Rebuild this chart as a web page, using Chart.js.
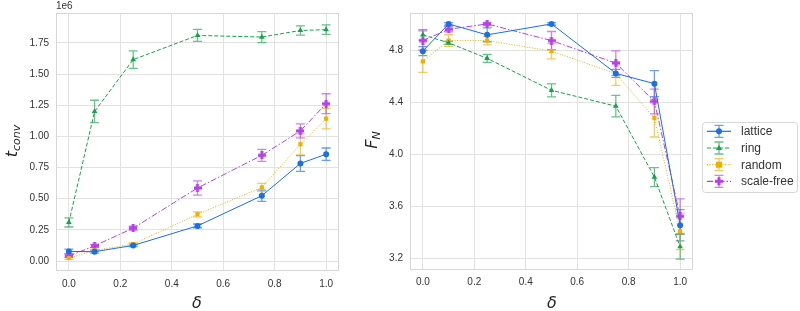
<!DOCTYPE html>
<html><head><meta charset="utf-8">
<script src="https://cdn.jsdelivr.net/npm/chart.js@4"></script>
<style>
body{margin:0;background:#fff;width:800px;height:311px;overflow:hidden;position:relative}
#l{position:absolute;left:0;top:0;width:350px;height:311px}
#r{position:absolute;left:350px;top:0;width:450px;height:311px}
</style></head><body>
<div id="l"><canvas id="c1" width="350" height="311"></canvas></div>
<div id="r"><canvas id="c2" width="450" height="311"></canvas></div>
<script>
// ---- data ----
const deltas = [0, 0.1, 0.25, 0.5, 0.75, 0.9, 1.0];
const seriesNames = ['lattice', 'ring', 'random', 'scale-free'];
// t_conv (units of 1e6)
const tconvLattice   = [0.077, 0.075, 0.125, 0.282, 0.524, 0.783, 0.857];
const tconvRing      = [0.310, 1.200, 1.616, 1.810, 1.797, 1.850, 1.856];
const tconvRandom    = [0.024, 0.085, 0.136, 0.375, 0.590, 0.937, 1.142];
const tconvScaleFree = [0.040, 0.122, 0.264, 0.586, 0.848, 1.044, 1.262];
const tconvErrLattice   = [0.018, 0.012, 0.010, 0.015, 0.045, 0.063, 0.050];
const tconvErrRing      = [0.037, 0.090, 0.070, 0.048, 0.044, 0.037, 0.038];
const tconvErrRandom    = [0.010, 0.010, 0.010, 0.020, 0.033, 0.085, 0.082];
const tconvErrScaleFree = [0.010, 0.012, 0.015, 0.057, 0.048, 0.056, 0.080];
// F_N
const fnLattice   = [4.795, 5.004, 4.920, 5.004, 4.624, 4.545, 3.457];
const fnRing      = [4.920, 4.859, 4.739, 4.494, 4.372, 3.827, 3.292];
const fnRandom    = [4.716, 4.876, 4.876, 4.795, 4.622, 4.280, 3.410];
const fnScaleFree = [4.876, 4.963, 5.004, 4.876, 4.703, 4.408, 3.526];
const fnErrLattice   = [0.035, 0.010, 0.053, 0.010, 0.030, 0.100, 0.120];
const fnErrRing      = [0.040, 0.012, 0.030, 0.050, 0.083, 0.073, 0.095];
const fnErrRandom    = [0.084, 0.045, 0.033, 0.060, 0.090, 0.145, 0.140];
const fnErrScaleFree = [0.074, 0.020, 0.012, 0.070, 0.094, 0.095, 0.134];
// ticks
const xTicks = [0, 0.2, 0.4, 0.6, 0.8, 1.0];
const tconvTicks = [0, 0.25, 0.5, 0.75, 1.0, 1.25, 1.5, 1.75];
const fnTicks = [3.2, 3.6, 4.0, 4.4, 4.8];

// ---- style ----
const colors = ['#1a6ee6', '#16a34a', '#f0b000', '#b640e8'];
const errColors = ['rgba(26,110,230,0.65)', 'rgba(22,163,74,0.65)', 'rgba(240,176,0,0.65)', 'rgba(182,64,232,0.65)'];
const dashes = [[], [4, 2], [1, 1.6], [6, 2, 1.5, 2]];
const TXT = '#333333';
const GRID = '#e2e2e2';
const TICKFONT = {family: '"Liberation Sans", Arial, sans-serif', size: 10};

function plusMarker(color) {
  const c = document.createElement('canvas');
  c.width = 8; c.height = 8;
  const g = c.getContext('2d');
  g.fillStyle = color;
  g.fillRect(2.5, 0, 3, 8);
  g.fillRect(0, 2.5, 8, 3);
  return c;
}
const pointStyles = ['circle', 'triangle', 'rect', plusMarker(colors[3])];
const pointRadii = [3, 3.3, 3, 4];

function buildDatasets(vals, errs) {
  return vals.map((v, i) => ({
    label: seriesNames[i],
    data: deltas.map((d, j) => ({x: d, y: v[j]})),
    errs: errs[i],
    ebColor: errColors[i],
    borderColor: colors[i],
    backgroundColor: colors[i],
    borderWidth: 1,
    borderDash: dashes[i],
    pointStyle: pointStyles[i],
    pointRadius: pointRadii[i],
    pointBorderWidth: 0,
    pointBackgroundColor: colors[i],
    tension: 0,
    fill: false
  }));
}

const errorBarPlugin = {
  id: 'errbars',
  beforeDatasetsDraw(chart) {
    const {ctx, scales: {x, y}} = chart;
    ctx.save();
    ctx.setLineDash([]);
    ctx.lineWidth = 1.3;
    chart.data.datasets.forEach(ds => {
      ctx.strokeStyle = ds.ebColor;
      ds.data.forEach((p, j) => {
        const e = ds.errs[j];
        const px = x.getPixelForValue(p.x);
        const y1 = y.getPixelForValue(p.y - e);
        const y2 = y.getPixelForValue(p.y + e);
        ctx.beginPath();
        ctx.moveTo(px, y1); ctx.lineTo(px, y2);
        ctx.moveTo(px - 4.5, y1); ctx.lineTo(px + 4.5, y1);
        ctx.moveTo(px - 4.5, y2); ctx.lineTo(px + 4.5, y2);
        ctx.stroke();
      });
    });
    ctx.restore();
  }
};

const framePlugin = {
  id: 'frame',
  afterDatasetsDraw(chart) {
    const {ctx, chartArea: a} = chart;
    ctx.save();
    ctx.strokeStyle = '#d6d6d6';
    ctx.lineWidth = 1;
    ctx.strokeRect(Math.round(a.left) + 0.5, Math.round(a.top) + 0.5, Math.round(a.right - a.left) - 1, Math.round(a.bottom - a.top) - 1);
    ctx.restore();
  }
};

function drawSub(ctx, main, sub, cx, cy, rotate) {
  ctx.save();
  ctx.translate(cx, cy);
  if (rotate) ctx.rotate(-Math.PI / 2);
  const mf = 'italic 16px "DejaVu Sans", sans-serif';
  const sf = 'italic 11px "DejaVu Sans", sans-serif';
  ctx.font = mf; const w1 = ctx.measureText(main).width;
  ctx.font = sf; const w2 = sub ? ctx.measureText(sub).width : 0;
  const w = w1 + w2;
  ctx.fillStyle = '#262626';
  ctx.textBaseline = 'alphabetic';
  ctx.textAlign = 'left';
  ctx.font = mf; ctx.fillText(main, -w / 2, 5);
  if (sub) { ctx.font = sf; ctx.fillText(sub, -w / 2 + w1, 8); }
  ctx.restore();
}

function makeOptions(cfg) {
  return {
    responsive: false,
    animation: false,
    devicePixelRatio: 1,
    layout: {padding: cfg.padding},
    plugins: {legend: {display: false}, tooltip: {enabled: false}},
    scales: {
      x: {
        type: 'linear', min: -0.05, max: 1.05,
        afterFit: s => { s.height = cfg.xh; },
        afterBuildTicks: s => { s.ticks = xTicks.map(v => ({value: v})); },
        grid: {color: GRID, drawTicks: false, lineWidth: 1},
        border: {display: false},
        ticks: {font: TICKFONT, color: TXT, padding: cfg.xpad, maxRotation: 0,
                callback: v => v.toFixed(1)}
      },
      y: {
        type: 'linear', min: cfg.ymin, max: cfg.ymax,
        afterFit: s => { s.width = cfg.yw; },
        afterBuildTicks: s => { s.ticks = cfg.yticks.map(v => ({value: v})); },
        grid: {color: GRID, drawTicks: false, lineWidth: 1},
        border: {display: false},
        ticks: {font: TICKFONT, color: TXT, padding: cfg.ypad,
                callback: v => v.toFixed(cfg.ydec)}
      }
    }
  };
}

// left chart
new Chart(document.getElementById('c1'), {
  type: 'line',
  data: {datasets: buildDatasets(
    [tconvLattice, tconvRing, tconvRandom, tconvScaleFree],
    [tconvErrLattice, tconvErrRing, tconvErrRandom, tconvErrScaleFree])},
  options: makeOptions({padding: {left: 0, right: 11, top: 10, bottom: 0}, xh: 40, yw: 56,
    ymin: -0.08, ymax: 1.99, yticks: tconvTicks, ydec: 2, xpad: 7, ypad: 7}),
  plugins: [errorBarPlugin, framePlugin, {
    id: 'labels1',
    afterDraw(chart) {
      const ctx = chart.ctx;
      ctx.save();
      ctx.font = '10px "Liberation Sans", Arial, sans-serif';
      ctx.fillStyle = TXT; ctx.textAlign = 'left'; ctx.textBaseline = 'alphabetic';
      ctx.fillText('1e6', chart.chartArea.left, 9);
      ctx.restore();
      drawSub(ctx, 't', 'conv', 12, 141, true);
      drawSub(ctx, 'δ', '', 197, 303, false);
    }
  }]
});

// right chart
new Chart(document.getElementById('c2'), {
  type: 'line',
  data: {datasets: buildDatasets(
    [fnLattice, fnRing, fnRandom, fnScaleFree],
    [fnErrLattice, fnErrRing, fnErrRandom, fnErrScaleFree])},
  options: makeOptions({padding: {left: 0, right: 107, top: 12, bottom: 0}, xh: 41, yw: 60,
    ymin: 3.113, ymax: 5.088, yticks: fnTicks, ydec: 1, xpad: 6, ypad: 7}),
  plugins: [errorBarPlugin, framePlugin, {
    id: 'labels2',
    afterDraw(chart) {
      const ctx = chart.ctx;
      drawSub(ctx, 'F', 'N', 22, 140, true);
      drawSub(ctx, 'δ', '', 202, 303, false);
      // legend
      const bx = 352, by = 122, bw = 95, bh = 70;
      ctx.save();
      ctx.fillStyle = '#fff';
      ctx.strokeStyle = '#d6d6d6';
      ctx.lineWidth = 1;
      ctx.beginPath();
      ctx.roundRect(bx + 0.5, by + 0.5, bw, bh, 3);
      ctx.fill(); ctx.stroke();
      const rows = [131.3, 148, 164.7, 181.3];
      chart.data.datasets.forEach((ds, i) => {
        const yy = rows[i];
        ctx.setLineDash(dashes[i]);
        ctx.strokeStyle = colors[i]; ctx.lineWidth = 1.2;
        ctx.beginPath(); ctx.moveTo(357, yy); ctx.lineTo(381, yy); ctx.stroke();
        ctx.setLineDash([]);
        ctx.strokeStyle = errColors[i]; ctx.lineWidth = 1.3;
        ctx.beginPath();
        ctx.moveTo(369, yy - 6); ctx.lineTo(369, yy + 6);
        ctx.moveTo(364.5, yy - 6); ctx.lineTo(373.5, yy - 6);
        ctx.moveTo(364.5, yy + 6); ctx.lineTo(373.5, yy + 6);
        ctx.stroke();
        ctx.fillStyle = colors[i];
        if (i === 0) { ctx.beginPath(); ctx.arc(369, yy, 3, 0, Math.PI * 2); ctx.fill(); }
        else if (i === 1) { ctx.beginPath(); ctx.moveTo(369, yy - 3.3); ctx.lineTo(372, yy + 2); ctx.lineTo(366, yy + 2); ctx.closePath(); ctx.fill(); }
        else if (i === 2) { ctx.fillRect(366, yy - 3, 6, 6); }
        else { ctx.fillRect(367.5, yy - 4, 3, 8); ctx.fillRect(365, yy - 1.5, 8, 3); }
        ctx.fillStyle = TXT;
        ctx.font = '12px "Liberation Sans", Arial, sans-serif';
        ctx.textAlign = 'left'; ctx.textBaseline = 'middle';
        ctx.fillText(ds.label, 391, yy + 0.5);
      });
      ctx.restore();
    }
  }]
});
</script>
</body></html>
